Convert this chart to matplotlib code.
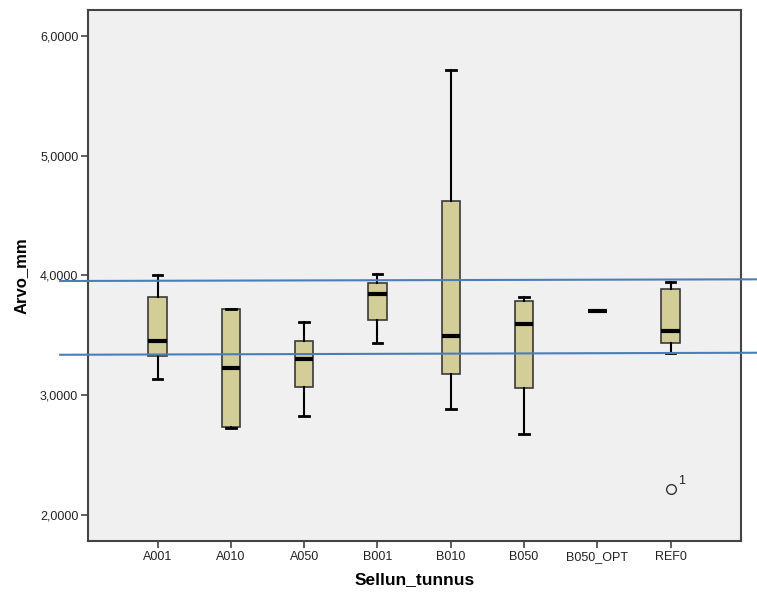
import matplotlib
matplotlib.use("Agg")
import matplotlib.pyplot as plt
from matplotlib.ticker import FixedLocator, FuncFormatter

plt.rcParams['font.family'] = ['Liberation Sans', 'DejaVu Sans']

# Summary statistics per cell type
groups = ["A001", "A010", "A050", "B001", "B010", "B050", "B050_OPT", "REF0"]
whisker_low = [3.136, 2.730, 2.829, 3.436, 2.885, 2.679, 3.701, 3.355]
q1 = [3.328, 2.735, 3.069, 3.628, 3.177, 3.058, 3.701, 3.439]
medians = [3.456, 3.228, 3.305, 3.846, 3.492, 3.592, 3.701, 3.539]
q3 = [3.823, 3.720, 3.456, 3.935, 4.620, 3.785, 3.701, 3.890]
whisker_high = [4.007, 3.720, 3.612, 4.010, 5.713, 3.823, 3.701, 3.948]
outliers = {"REF0": [(2.215, "1")]}

# Hand-drawn reference limits (start and end value of each line)
ref_lines = [(3.954, 3.968), (3.338, 3.355)]

y_ticks = [2, 3, 4, 5, 6]

fig = plt.figure(figsize=(7.57, 5.95), dpi=100)
ax = fig.add_axes([88 / 757, 1 - 541 / 595, 653 / 757, 531.5 / 595])
ax.set_facecolor("#F0F0F0")

stats = []
for i, g in enumerate(groups):
    stats.append(dict(
        label=g, med=medians[i], q1=q1[i], q3=q3[i],
        whislo=whisker_low[i], whishi=whisker_high[i],
        fliers=[v for v, _ in outliers.get(g, [])],
    ))

positions = list(range(1, len(groups) + 1))
ax.bxp(
    stats, positions=positions, widths=0.25, patch_artist=True,
    showfliers=True,
    boxprops=dict(facecolor="#D3CE97", edgecolor="#3A3A3A", linewidth=1.2),
    medianprops=dict(color="black", linewidth=3, solid_capstyle="butt"),
    whiskerprops=dict(color="black", linewidth=1.5),
    capprops=dict(color="black", linewidth=2),
    capwidths=0.13,
    flierprops=dict(marker="o", markersize=7, markerfacecolor="none",
                    markeredgecolor="#333333", markeredgewidth=1),
)

# Case labels next to outliers
for g, pts in outliers.items():
    xi = groups.index(g) + 1
    for v, lab in pts:
        ax.annotate(lab, (xi, v), xytext=(5, 4), textcoords="offset points",
                    fontsize=9, color="#222222")

ax.set_xlim(0.05, 8.96)
ax.set_ylim(1.783, 6.221)

# Limit lines drawn across the whole chart width
for y0, y1 in ref_lines:
    ax.plot([-0.33, 9.18], [y0, y1], color="#4A7EBB", linewidth=1.5,
            clip_on=False, zorder=5)

ax.yaxis.set_major_locator(FixedLocator(y_ticks))
ax.yaxis.set_major_formatter(FuncFormatter(lambda v, p: f"{v:.4f}".replace(".", ",")))
ax.set_xticks(positions)
ax.set_xticklabels(groups)

for s in ax.spines.values():
    s.set_color("#444444")
    s.set_linewidth(1.5)
ax.tick_params(axis="both", direction="out", length=5, width=1.2,
               color="#444444", labelsize=9, labelcolor="#222222")
ax.tick_params(axis="x", pad=2)
ax.tick_params(axis="y", pad=2)

ax.set_xlabel("Sellun_tunnus", fontsize=12.5, fontweight="bold", labelpad=7)
ax.set_ylabel("Arvo_mm", fontsize=12, fontweight="bold", labelpad=8)

fig.savefig("out.png", dpi=100)
